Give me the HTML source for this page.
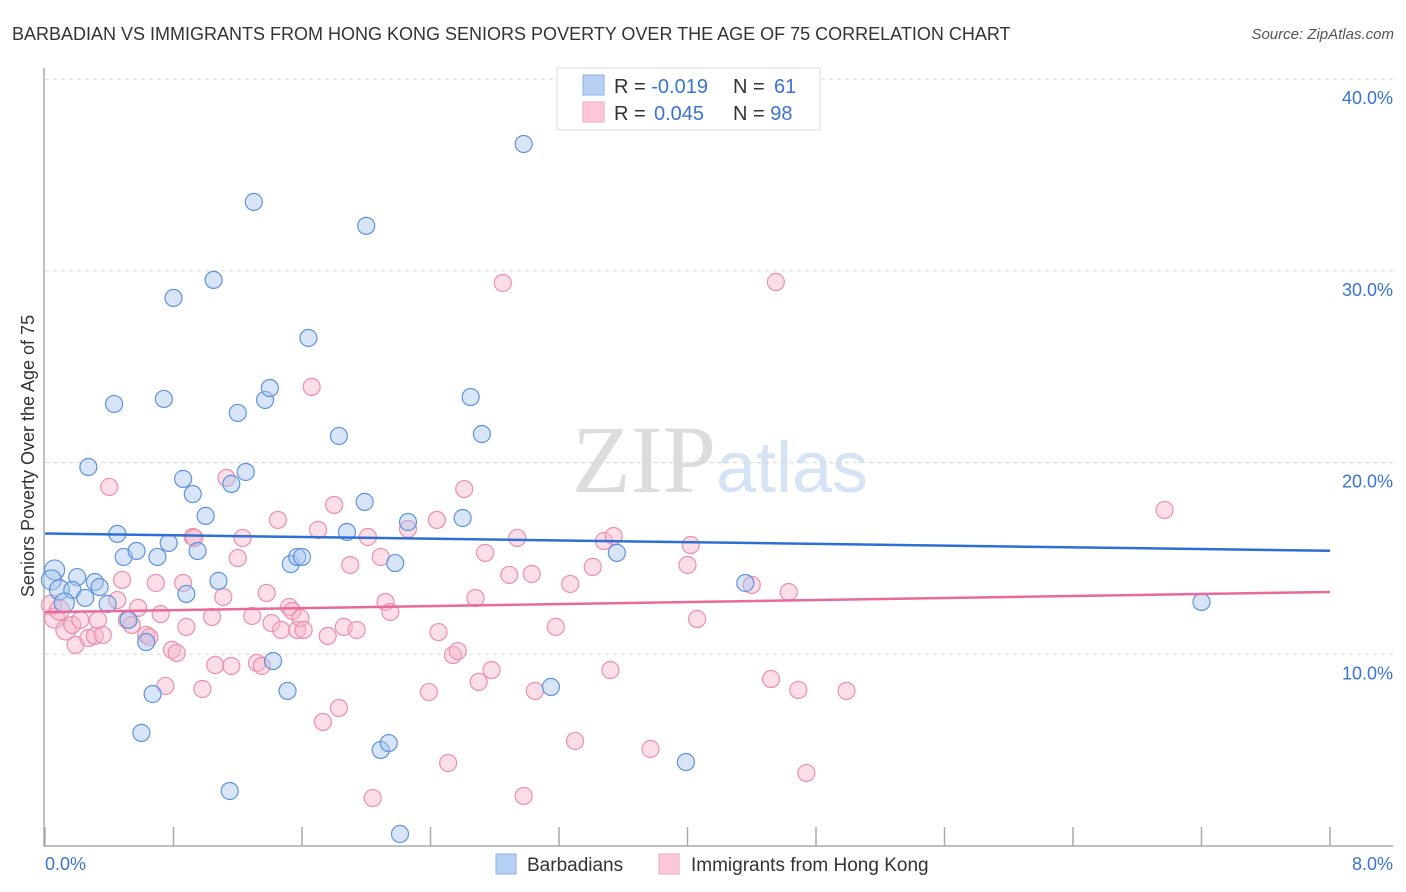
<!DOCTYPE html>
<html><head><meta charset="utf-8"><style>
body{margin:0;background:#fff;font-family:"Liberation Sans",sans-serif}
svg{display:block}
</style></head><body>
<svg id="chart" width="1406" height="892">
<text x="12" y="40" font-size="18" fill="#333">BARBADIAN VS IMMIGRANTS FROM HONG KONG SENIORS POVERTY OVER THE AGE OF 75 CORRELATION CHART</text>
<text x="1394" y="39" font-size="15" fill="#555" font-style="italic" text-anchor="end">Source: ZipAtlas.com</text>
<text x="720" y="492" font-size="96" fill="#e3e3e3" text-anchor="middle" font-family="Liberation Serif,serif"><tspan fill="#dcdcdc">ZIP</tspan><tspan fill="#d6e3f5" font-family="Liberation Sans,sans-serif" font-size="72">atlas</tspan></text>
<g id="grid"></g>
<g id="axes"></g>
<g id="pts"></g>
<g id="lines"></g>
<text transform="translate(34,456) rotate(-90)" font-size="18" fill="#333" text-anchor="middle">Seniors Poverty Over the Age of 75</text>
<g>
<rect x="557" y="68" width="263" height="62" fill="#fff" stroke="#ddd"/>
<rect x="583" y="75" width="21" height="20" fill="#b7d0f3" stroke="#8bb0e6"/>
<rect x="583" y="102" width="21" height="20" fill="#fcc8d8" stroke="#f2a6bf"/>
<text x="614" y="93" font-size="20" fill="#333">R = <tspan fill="#3a74d0">-0.019</tspan><tspan x="733">N = </tspan><tspan fill="#3a74d0" x="774">61</tspan></text>
<text x="614" y="120" font-size="20" fill="#333">R = <tspan fill="#3a74d0" x="654">0.045</tspan><tspan x="733">N = </tspan><tspan fill="#3a74d0">98</tspan></text>
</g>
<g>
<rect x="496" y="854" width="20" height="20" fill="#b7d0f3" stroke="#8bb0e6"/>
<text x="527" y="871" font-size="19" fill="#333">Barbadians</text>
<rect x="659" y="854" width="20" height="20" fill="#fcc8d8" stroke="#f2a6bf"/>
<text x="691" y="871" font-size="19" fill="#333">Immigrants from Hong Kong</text>
</g>
</svg>
<script>
const blueX=[.06,.04,.09,.20,.17,.12,.25,.31,.34,.39,.27,.43,.45,.49,.57,.52,.63,.67,.60,.70,.77,.74,.80,.86,.88,.92,.95,1.00,1.05,1.08,1.16,1.20,1.25,1.30,1.37,1.40,1.42,1.51,1.15,1.53,1.57,1.60,1.64,1.83,1.88,1.99,2.00,2.09,2.14,2.18,2.21,2.26,2.60,2.65,2.72,2.98,3.15,3.56,3.99,4.36,7.20];
const blueY=[14.40,13.88,13.36,14.03,13.36,12.68,12.94,13.77,13.51,12.63,19.77,23.06,16.28,15.08,15.39,11.79,10.64,7.93,5.90,15.08,15.81,23.32,28.59,19.15,13.15,18.36,15.39,17.22,29.53,13.83,18.89,22.59,19.51,33.60,23.27,23.89,9.65,8.09,2.87,14.71,15.08,15.08,26.50,21.39,16.38,17.95,32.35,5.01,5.37,14.76,0.63,16.90,17.11,23.42,21.49,36.62,8.30,15.29,4.38,13.72,12.73];
const pinkX=[.04,.06,.09,.13,.17,.19,.22,.27,.31,.36,.33,.40,.45,.48,.51,.54,.58,.63,.65,.69,.72,.75,.79,.82,.86,.88,.92,.93,.98,1.04,1.06,1.11,1.13,1.16,1.20,1.23,1.29,1.32,1.35,1.38,1.41,1.45,1.47,1.52,1.54,1.57,1.59,1.61,1.66,1.70,1.73,1.76,1.80,1.83,1.86,1.90,1.94,2.01,2.04,2.09,2.12,2.15,2.26,2.39,2.44,2.45,2.51,2.54,2.57,2.61,2.70,2.68,2.74,2.78,2.85,2.89,2.94,2.98,3.03,3.05,3.18,3.27,3.30,3.41,3.48,3.54,3.52,3.77,4.00,4.02,4.06,4.40,4.52,4.55,4.63,4.69,4.74,4.99,6.97];
const pinkY=[12.57,11.89,12.31,11.27,11.53,10.49,11.79,10.85,10.96,11.01,11.79,18.73,12.83,13.88,11.79,11.53,12.42,11.01,10.90,13.72,12.10,8.35,10.23,10.07,13.72,11.43,16.12,16.07,8.19,11.95,9.44,12.99,19.20,9.39,15.02,16.07,12.00,9.55,9.39,13.20,11.63,17.01,11.27,12.47,12.26,11.27,11.89,11.27,23.95,16.49,6.47,10.96,17.79,7.20,11.43,14.66,11.27,16.12,2.50,15.08,12.73,12.21,16.54,8.03,17.01,11.16,4.33,9.96,10.17,18.62,8.56,12.94,15.29,9.18,29.37,14.14,16.07,2.61,14.19,8.09,11.43,13.67,5.48,14.56,15.91,16.17,9.18,5.06,14.66,15.70,11.84,13.62,8.71,29.42,13.25,8.14,3.81,8.09,17.53];
const blueTrend=[16.3,15.4];
const pinkTrend=[12.2,13.25];
const yTicks=[10,20,30,40];
const yTickLabels=["10.0%","20.0%","30.0%","40.0%"];
const xTickVals=[0,0.8,1.6,2.4,3.2,4,4.8,5.6,6.4,7.2,8];
const xLabels=["0.0%","8.0%"];
const NS="http://www.w3.org/2000/svg";
const X=v=>45+v/8*1285, Y=v=>846-v*19.17;
function mk(t,a,p){const e=document.createElementNS(NS,t);for(const k in a)e.setAttribute(k,a[k]);p.appendChild(e);return e;}
const grid=document.getElementById('grid'),axes=document.getElementById('axes'),pts=document.getElementById('pts'),lines=document.getElementById('lines');
yTicks.forEach((v,i)=>{
 const l=mk('line',{x1:45,x2:1393,y1:Y(v),y2:Y(v),stroke:'#d8d8d8','stroke-dasharray':'4,4'},grid);
 
 
 const t=mk('text',{x:1393,y:Y(v)+25,'font-size':18,fill:'#3a74d0','text-anchor':'end'},axes);
 t.textContent=yTickLabels[i];
 
 
});
const ax=mk('path',{d:'M44,68 V846 H1393',fill:'none',stroke:'#aaa','stroke-width':1.5},axes);


xTickVals.forEach(v=>{
 const t=mk('line',{x1:X(v),x2:X(v),y1:827,y2:846,stroke:'#aaa','stroke-width':1.5},axes);
 
 
});
const xl0=mk('text',{x:45,y:870,'font-size':18,fill:'#3a74d0'},axes);xl0.textContent=xLabels[0];


const xl1=mk('text',{x:1393,y:870,'font-size':18,fill:'#3a74d0','text-anchor':'end'},axes);xl1.textContent=xLabels[1];


function dots(xs,ys,fill,stroke,name){
 xs.forEach((x,i)=>{
  const c=mk('circle',{cx:X(x),cy:Y(ys[i]),r:x<0.15?10:8.5,fill:fill,'fill-opacity':0.45,stroke:stroke,'stroke-width':1.2},pts);
  
  
 });
}
dots(pinkX,pinkY,'#f7b6ca','#ec8fae','pink-point');
dots(blueX,blueY,'#a9c6ef','#5d93dd','blue-point');
const bl=mk('line',{x1:X(0),x2:X(8),y1:Y(blueTrend[0]),y2:Y(blueTrend[1]),stroke:'#2e6fd6','stroke-width':2.5},lines);


const pl=mk('line',{x1:X(0),x2:X(8),y1:Y(pinkTrend[0]),y2:Y(pinkTrend[1]),stroke:'#e8699a','stroke-width':2.5},lines);


</script>
</body></html>
